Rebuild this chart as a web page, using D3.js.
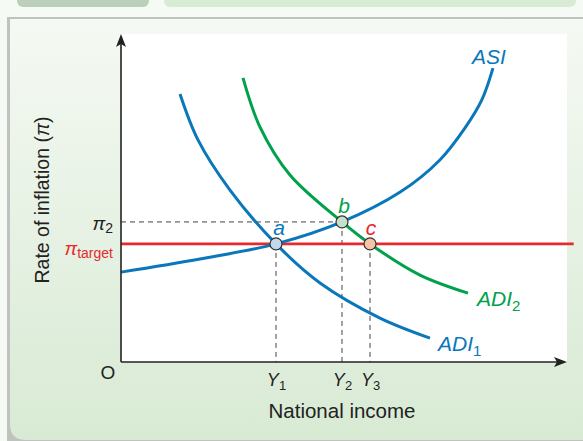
<!DOCTYPE html>
<html><head><meta charset="utf-8">
<script src="https://cdn.jsdelivr.net/npm/d3@7"></script>
<style>body{margin:0;background:#fff}svg{display:block}</style>
</head><body><div id="chart"></div>
<script>
// ---- data (abstract units: income 0..10, inflation 0..10) ----
const incomeTickNames = ["1", "2", "3"];          // Y subscripts
const incomeValues = [3.475, 4.955, 5.583];        // Y1, Y2, Y3
const inflationTickNames = ["target", "2"];        // π subscripts
const inflationValues = [3.60, 4.27];              // π_target, π2
const asiCurve = [[0,2.74],[1.77,3.14],[3.475,3.60],[4.955,4.27],[6.26,5.18],[7.15,6.16],[7.71,7.13],[8.09,7.99],[8.34,8.96]];
const adi1Curve = [[1.323,8.17],[1.726,6.77],[2.444,5.24],[3.475,3.60],[4.462,2.41],[5.807,1.34],[6.928,0.73]];
const adi2Curve = [[2.735,8.66],[3.117,7.16],[3.789,5.70],[4.955,4.27],[5.583,3.60],[6.704,2.65],[7.780,2.10]];
const pointNames = ["a", "b", "c"];
const pointIncome = [incomeValues[0], incomeValues[1], incomeValues[2]];
const pointInflation = [inflationValues[0], inflationValues[1], inflationValues[0]];
const targetLineEnd = 10.15;

const W = 583, H = 441;
const blue = "#0a77bb", green = "#00a14b", red = "#e52a2f";
const svg = d3.select("#chart").append("svg").attr("width", W).attr("height", H);
const defs = svg.append("defs");
const grad = defs.append("linearGradient").attr("id","bg").attr("x1",0).attr("y1",0).attr("x2",0).attr("y2",1);
grad.append("stop").attr("offset","0%").attr("stop-color","#f5f9f3");
grad.append("stop").attr("offset","100%").attr("stop-color","#d8ead4");

// panel frame
svg.append("rect").attr("x",0).attr("y",0).attr("width",W).attr("height",H).attr("fill","#f6faf4");
svg.append("rect").attr("x",17).attr("y",-10).attr("width",132).attr("height",17).attr("rx",6).attr("fill","#bccfbb");
svg.append("rect").attr("x",164).attr("y",-10).attr("width",412).attr("height",17).attr("rx",6).attr("fill","#d8ebd5");
svg.append("path").attr("d",`M7,17 H${W} V${H} H7 Z`).attr("fill","#c0c2c0");
svg.append("path").attr("d",`M10,19 H${W} V${H-1} H26 Q10,${H-1} 10,${H-17} Z`).attr("fill","url(#bg)");

// plot area
const x = d3.scaleLinear().domain([0,10]).range([121,567]);
const y = d3.scaleLinear().domain([0,10]).range([362,34]);
svg.append("rect").attr("x",x(0)).attr("y",y(10)).attr("width",x(10)-x(0)).attr("height",y(0)-y(10)).attr("fill","#fff");

const font = "'Liberation Sans', Arial, sans-serif";

// dashed guides
const dash = svg.append("g").attr("stroke","#444").attr("stroke-width",1).attr("stroke-dasharray","5,4").attr("fill","none");
dash.append("line").attr("x1",x(0)).attr("x2",x(pointIncome[1])).attr("y1",y(inflationValues[1])).attr("y2",y(inflationValues[1]));
pointIncome.forEach((v,i)=>{
  dash.append("line").attr("x1",x(v)).attr("x2",x(v)).attr("y1",y(pointInflation[i])).attr("y2",y(0));
});

// target line
svg.append("line").attr("x1",x(0)).attr("x2",x(targetLineEnd)).attr("y1",y(inflationValues[0])).attr("y2",y(inflationValues[0]))
  .attr("stroke",red).attr("stroke-width",2.6);

// curves
const line = d3.line().x(d=>x(d[0])).y(d=>y(d[1])).curve(d3.curveCatmullRom.alpha(0.5));
[[asiCurve,blue],[adi1Curve,blue],[adi2Curve,green]].forEach(([data,col])=>{
  svg.append("path").datum(data).attr("d",line).attr("fill","none").attr("stroke",col).attr("stroke-width",3).attr("stroke-linecap","butt");
});

// axes
const xAxis = d3.axisBottom(x).tickValues(incomeValues).tickSize(0).tickPadding(12).tickFormat("");
const gx = svg.append("g").attr("transform",`translate(0,${y(0)})`).call(xAxis);
gx.select(".domain").remove();
gx.selectAll(".tick").each(function(d,i){
  const t = d3.select(this).append("text").attr("y",24).attr("fill","#222").attr("text-anchor","middle")
    .style("font-family",font).style("font-size","18px");
  t.append("tspan").attr("font-style","italic").text("Y");
  t.append("tspan").attr("dy",4).style("font-size","13px").text(incomeTickNames[i]);
});
const yAxis = d3.axisLeft(y).tickValues(inflationValues).tickSize(0).tickFormat("");
const gy = svg.append("g").attr("transform",`translate(${x(0)},0)`).call(yAxis);
gy.select(".domain").remove();
gy.selectAll(".tick").each(function(d,i){
  const col = i===0 ? red : "#222";
  const t = d3.select(this).append("text").attr("x",-8).attr("y", i===0 ? 11 : 8).attr("fill",col).attr("text-anchor","end")
    .style("font-family",font).style("font-size","19px");
  t.append("tspan").attr("font-style","italic").text("π");
  t.append("tspan").attr("dy",3).style("font-size","14px").text(inflationTickNames[i]);
});

// axis lines with arrows
const ax = svg.append("g").attr("stroke","#222").attr("stroke-width",1.6);
ax.append("line").attr("x1",x(0)).attr("x2",x(0)).attr("y1",y(0)).attr("y2",y(10)+8);
ax.append("line").attr("x1",x(0)).attr("x2",x(10)-8).attr("y1",y(0)).attr("y2",y(0));
svg.append("path").attr("d",`M${x(0)},${y(10)} l-5,13 l5,-3 l5,3 Z`).attr("fill","#222");
svg.append("path").attr("d",`M${x(10)},${y(0)} l-13,-5 l3,5 l-3,5 Z`).attr("fill","#222");

// origin
svg.append("text").attr("x",x(0)-13).attr("y",y(0)+17).attr("text-anchor","middle").attr("fill","#222")
  .style("font-family",font).style("font-size","19px").text("O");

// axis titles
svg.append("text").attr("x",342).attr("y",418).attr("text-anchor","middle").attr("fill","#222")
  .style("font-family",font).style("font-size","20.5px").text("National income");
const yt = svg.append("text").attr("transform","translate(49,200) rotate(-90)").attr("text-anchor","middle").attr("fill","#222")
  .style("font-family",font).style("font-size","19.5px");
yt.append("tspan").text("Rate of inflation (");
yt.append("tspan").attr("font-style","italic").text("π");
yt.append("tspan").text(")");

// curve labels
function curveLabel(px,py,main,sub,col){
  const t = svg.append("text").attr("x",px).attr("y",py).attr("fill",col).style("font-family",font)
    .style("font-size","21px").style("font-style","italic");
  t.append("tspan").text(main);
  if(sub){ t.append("tspan").attr("dy",5).style("font-size","15px").style("font-style","normal").text(sub); }
}
curveLabel(472,64,"ASI",null,blue);
curveLabel(477,306,"ADI","2",green);
curveLabel(438,351,"ADI","1",blue);

// equilibrium points
const pointFills = ["#c3d8ed","#c6e1c9","#f6c3a6"];
const pointLabelCols = [blue, green, red];
pointNames.forEach((n,i)=>{
  svg.append("circle").attr("cx",x(pointIncome[i])).attr("cy",y(pointInflation[i])).attr("r",6)
    .attr("fill",pointFills[i]).attr("stroke","#333").attr("stroke-width",1.2);
  svg.append("text").attr("x",x(pointIncome[i]) + (i===0?3:i===1?2:1)).attr("y",y(pointInflation[i])-9)
    .attr("text-anchor","middle").attr("fill",pointLabelCols[i]).style("font-family",font)
    .style("font-size","21px").style("font-style","italic").text(n);
});
</script></body></html>
